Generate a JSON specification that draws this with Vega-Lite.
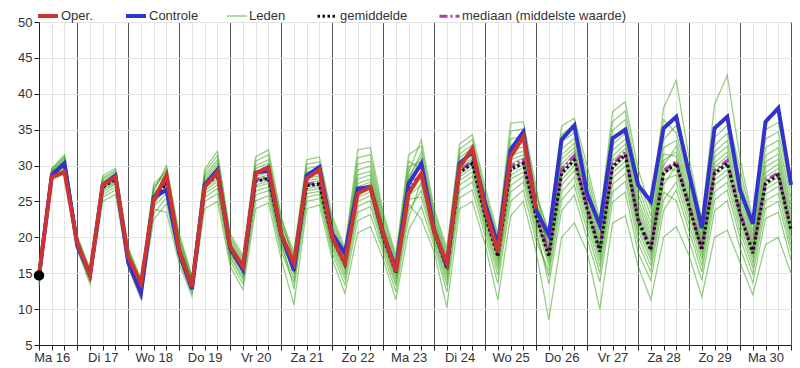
{"$schema":"https://vega.github.io/schema/vega-lite/v6.json","width":752,"height":323,"autosize":{"type":"none"},"padding":{"left":39,"top":22,"right":9,"bottom":23},
"config":{"font":"Liberation Sans","view":{"stroke":"#222222","strokeWidth":1},
"axis":{"labelFont":"Liberation Sans","labelFontSize":13,"labelColor":"#333333","domainColor":"#222222","tickColor":"#222222","tickSize":5,"title":null,"gridColor":"#e3e3e3"},
"legend":{"orient":"none","legendX":-3,"legendY":-18,"direction":"horizontal","labelFont":"Liberation Sans","labelFontSize":13,"labelColor":"#333333","symbolType":"stroke","symbolSize":400,"labelOffset":1,"columnPadding":25,"labelLimit":400}},
"datasets":{
"obs":[{"h":6,"v":14.7}],
"oper":[{"h":6,"v":14.75},{"h":12,"v":28.4},{"h":18,"v":29.1},{"h":24,"v":19.2},{"h":30,"v":14.75},{"h":36,"v":27.3},{"h":42,"v":28.4},{"h":48,"v":17.3},{"h":54,"v":13.6},{"h":60,"v":25.2},{"h":66,"v":28.7},{"h":72,"v":18.2},{"h":78,"v":13.1},{"h":84,"v":27.05},{"h":90,"v":29.1},{"h":96,"v":18.7},{"h":102,"v":15.9},{"h":108,"v":28.9},{"h":114,"v":29.8},{"h":120,"v":20.5},{"h":126,"v":16.4},{"h":132,"v":28.2},{"h":138,"v":29.4},{"h":144,"v":20.0},{"h":150,"v":16.4},{"h":156,"v":26.1},{"h":162,"v":27.0},{"h":168,"v":20.6},{"h":174,"v":15.2},{"h":180,"v":26.1},{"h":186,"v":28.9},{"h":192,"v":20.8},{"h":198,"v":16.4},{"h":204,"v":29.8},{"h":210,"v":32.4},{"h":216,"v":24.0},{"h":222,"v":18.0},{"h":228,"v":31.2},{"h":234,"v":34.0},{"h":240,"v":24.0}],
"ctrl":[{"h":6,"v":14.6},{"h":12,"v":28.6},{"h":18,"v":30.3},{"h":24,"v":18.8},{"h":30,"v":14.8},{"h":36,"v":27.3},{"h":42,"v":28.6},{"h":48,"v":16.5},{"h":54,"v":12.2},{"h":60,"v":25.6},{"h":66,"v":26.6},{"h":72,"v":17.8},{"h":78,"v":12.8},{"h":84,"v":27.3},{"h":90,"v":29.4},{"h":96,"v":18.5},{"h":102,"v":15.5},{"h":108,"v":29.0},{"h":114,"v":29.3},{"h":120,"v":20.5},{"h":126,"v":15.4},{"h":132,"v":28.6},{"h":138,"v":29.8},{"h":144,"v":20.5},{"h":150,"v":17.8},{"h":156,"v":26.8},{"h":162,"v":27.0},{"h":168,"v":20.5},{"h":174,"v":15.6},{"h":180,"v":27.5},{"h":186,"v":30.3},{"h":192,"v":21.0},{"h":198,"v":16.0},{"h":204,"v":30.3},{"h":210,"v":31.9},{"h":216,"v":24.8},{"h":222,"v":18.9},{"h":228,"v":32.2},{"h":234,"v":34.7},{"h":240,"v":23.8},{"h":246,"v":20.3},{"h":252,"v":33.6},{"h":258,"v":35.6},{"h":264,"v":26.1},{"h":270,"v":21.7},{"h":276,"v":33.8},{"h":282,"v":35.0},{"h":288,"v":27.3},{"h":294,"v":25.0},{"h":300,"v":35.2},{"h":306,"v":36.8},{"h":312,"v":28.9},{"h":318,"v":21.3},{"h":324,"v":35.2},{"h":330,"v":36.8},{"h":336,"v":26.6},{"h":342,"v":21.9},{"h":348,"v":36.1},{"h":354,"v":38.0},{"h":360,"v":27.3}],
"gem":[{"h":6,"v":14.6},{"h":12,"v":28.8},{"h":18,"v":30.2},{"h":24,"v":19.2},{"h":30,"v":14.6},{"h":36,"v":27.0},{"h":42,"v":28.1},{"h":48,"v":17.2},{"h":54,"v":13.0},{"h":60,"v":25.2},{"h":66,"v":27.5},{"h":72,"v":18.2},{"h":78,"v":13.3},{"h":84,"v":27.2},{"h":90,"v":28.6},{"h":96,"v":18.3},{"h":102,"v":15.5},{"h":108,"v":27.8},{"h":114,"v":28.2},{"h":120,"v":20.2},{"h":126,"v":15.8},{"h":132,"v":27.2},{"h":138,"v":27.4},{"h":144,"v":19.8},{"h":150,"v":16.2},{"h":156,"v":26.3},{"h":162,"v":27.0},{"h":168,"v":20.0},{"h":174,"v":15.0},{"h":180,"v":26.5},{"h":186,"v":28.6},{"h":192,"v":20.8},{"h":198,"v":15.6},{"h":204,"v":29.0},{"h":210,"v":30.3},{"h":216,"v":23.0},{"h":222,"v":17.3},{"h":228,"v":29.5},{"h":234,"v":30.3},{"h":240,"v":22.9},{"h":246,"v":17.3},{"h":252,"v":28.9},{"h":258,"v":30.8},{"h":264,"v":24.0},{"h":270,"v":18.0},{"h":276,"v":29.8},{"h":282,"v":31.5},{"h":288,"v":22.4},{"h":294,"v":18.2},{"h":300,"v":28.9},{"h":306,"v":30.3},{"h":312,"v":24.3},{"h":318,"v":18.2},{"h":324,"v":28.9},{"h":330,"v":30.3},{"h":336,"v":23.3},{"h":342,"v":17.8},{"h":348,"v":27.5},{"h":354,"v":28.7},{"h":360,"v":21.0}],
"med":[{"h":6,"v":14.7},{"h":12,"v":28.9},{"h":18,"v":30.3},{"h":24,"v":19.2},{"h":30,"v":14.6},{"h":36,"v":27.1},{"h":42,"v":28.3},{"h":48,"v":17.2},{"h":54,"v":13.0},{"h":60,"v":25.4},{"h":66,"v":27.8},{"h":72,"v":18.2},{"h":78,"v":13.4},{"h":84,"v":27.4},{"h":90,"v":28.8},{"h":96,"v":18.3},{"h":102,"v":15.6},{"h":108,"v":28.0},{"h":114,"v":28.4},{"h":120,"v":20.2},{"h":126,"v":16.0},{"h":132,"v":27.4},{"h":138,"v":27.6},{"h":144,"v":19.9},{"h":150,"v":16.5},{"h":156,"v":26.5},{"h":162,"v":27.2},{"h":168,"v":20.1},{"h":174,"v":15.2},{"h":180,"v":26.8},{"h":186,"v":28.9},{"h":192,"v":20.9},{"h":198,"v":15.9},{"h":204,"v":29.3},{"h":210,"v":30.6},{"h":216,"v":23.2},{"h":222,"v":17.8},{"h":228,"v":29.9},{"h":234,"v":30.8},{"h":240,"v":23.1},{"h":246,"v":18.0},{"h":252,"v":29.4},{"h":258,"v":31.4},{"h":264,"v":24.3},{"h":270,"v":18.5},{"h":276,"v":30.2},{"h":282,"v":31.9},{"h":288,"v":22.6},{"h":294,"v":18.6},{"h":300,"v":29.3},{"h":306,"v":30.6},{"h":312,"v":24.5},{"h":318,"v":18.6},{"h":324,"v":29.3},{"h":330,"v":30.7},{"h":336,"v":23.5},{"h":342,"v":18.2},{"h":348,"v":27.9},{"h":354,"v":29.0},{"h":360,"v":21.2}],
"leden":[
{"h":6,"m":1,"v":14.2},{"h":6,"m":2,"v":14.9},{"h":6,"m":3,"v":13.0},{"h":6,"m":4,"v":14.7},{"h":6,"m":5,"v":15.1},{"h":6,"m":6,"v":13.8},{"h":6,"m":7,"v":14.5},{"h":6,"m":8,"v":15.3},{"h":6,"m":9,"v":14.7},{"h":6,"m":10,"v":13.5},{"h":6,"m":11,"v":15.0},{"h":6,"m":12,"v":14.4},{"h":6,"m":13,"v":14.8},{"h":6,"m":14,"v":14.0},{"h":6,"m":15,"v":15.2},{"h":6,"m":16,"v":14.6},
{"h":12,"m":1,"v":28.6},{"h":12,"m":2,"v":29.1},{"h":12,"m":3,"v":28.0},{"h":12,"m":4,"v":28.9},{"h":12,"m":5,"v":29.3},{"h":12,"m":6,"v":28.4},{"h":12,"m":7,"v":28.8},{"h":12,"m":8,"v":29.6},{"h":12,"m":9,"v":29.0},{"h":12,"m":10,"v":28.2},{"h":12,"m":11,"v":29.2},{"h":12,"m":12,"v":28.7},{"h":12,"m":13,"v":29.0},{"h":12,"m":14,"v":28.5},{"h":12,"m":15,"v":29.5},{"h":12,"m":16,"v":28.8},
{"h":18,"m":1,"v":29.9},{"h":18,"m":2,"v":30.7},{"h":18,"m":3,"v":28.8},{"h":18,"m":4,"v":30.4},{"h":18,"m":5,"v":31.1},{"h":18,"m":6,"v":29.5},{"h":18,"m":7,"v":30.1},{"h":18,"m":8,"v":31.5},{"h":18,"m":9,"v":30.5},{"h":18,"m":10,"v":29.2},{"h":18,"m":11,"v":30.9},{"h":18,"m":12,"v":30.0},{"h":18,"m":13,"v":30.6},{"h":18,"m":14,"v":29.7},{"h":18,"m":15,"v":31.3},{"h":18,"m":16,"v":30.3},
{"h":24,"m":1,"v":19.0},{"h":24,"m":2,"v":19.6},{"h":24,"m":3,"v":18.3},{"h":24,"m":4,"v":19.3},{"h":24,"m":5,"v":19.9},{"h":24,"m":6,"v":18.8},{"h":24,"m":7,"v":19.2},{"h":24,"m":8,"v":20.2},{"h":24,"m":9,"v":19.4},{"h":24,"m":10,"v":18.6},{"h":24,"m":11,"v":19.7},{"h":24,"m":12,"v":19.1},{"h":24,"m":13,"v":19.5},{"h":24,"m":14,"v":18.9},{"h":24,"m":15,"v":20.0},{"h":24,"m":16,"v":19.2},
{"h":30,"m":1,"v":14.4},{"h":30,"m":2,"v":15.0},{"h":30,"m":3,"v":13.5},{"h":30,"m":4,"v":14.7},{"h":30,"m":5,"v":15.3},{"h":30,"m":6,"v":14.1},{"h":30,"m":7,"v":14.6},{"h":30,"m":8,"v":15.6},{"h":30,"m":9,"v":14.8},{"h":30,"m":10,"v":13.8},{"h":30,"m":11,"v":15.1},{"h":30,"m":12,"v":14.5},{"h":30,"m":13,"v":14.9},{"h":30,"m":14,"v":14.2},{"h":30,"m":15,"v":15.4},{"h":30,"m":16,"v":14.6},
{"h":36,"m":1,"v":26.6},{"h":36,"m":2,"v":27.6},{"h":36,"m":3,"v":25.0},{"h":36,"m":4,"v":27.2},{"h":36,"m":5,"v":28.1},{"h":36,"m":6,"v":26.0},{"h":36,"m":7,"v":26.9},{"h":36,"m":8,"v":28.6},{"h":36,"m":9,"v":27.3},{"h":36,"m":10,"v":25.6},{"h":36,"m":11,"v":27.8},{"h":36,"m":12,"v":26.8},{"h":36,"m":13,"v":27.5},{"h":36,"m":14,"v":26.3},{"h":36,"m":15,"v":28.3},{"h":36,"m":16,"v":27.1},
{"h":42,"m":1,"v":27.6},{"h":42,"m":2,"v":28.7},{"h":42,"m":3,"v":26.0},{"h":42,"m":4,"v":28.3},{"h":42,"m":5,"v":29.1},{"h":42,"m":6,"v":27.0},{"h":42,"m":7,"v":28.0},{"h":42,"m":8,"v":29.6},{"h":42,"m":9,"v":28.4},{"h":42,"m":10,"v":26.6},{"h":42,"m":11,"v":28.9},{"h":42,"m":12,"v":27.8},{"h":42,"m":13,"v":28.5},{"h":42,"m":14,"v":27.4},{"h":42,"m":15,"v":29.3},{"h":42,"m":16,"v":28.2},
{"h":48,"m":1,"v":16.9},{"h":48,"m":2,"v":17.8},{"h":48,"m":3,"v":15.8},{"h":48,"m":4,"v":17.4},{"h":48,"m":5,"v":18.1},{"h":48,"m":6,"v":16.5},{"h":48,"m":7,"v":17.1},{"h":48,"m":8,"v":18.6},{"h":48,"m":9,"v":17.5},{"h":48,"m":10,"v":16.2},{"h":48,"m":11,"v":17.9},{"h":48,"m":12,"v":17.0},{"h":48,"m":13,"v":17.6},{"h":48,"m":14,"v":16.7},{"h":48,"m":15,"v":18.3},{"h":48,"m":16,"v":17.3},
{"h":54,"m":1,"v":12.6},{"h":54,"m":2,"v":13.5},{"h":54,"m":3,"v":11.4},{"h":54,"m":4,"v":13.1},{"h":54,"m":5,"v":13.8},{"h":54,"m":6,"v":12.2},{"h":54,"m":7,"v":12.9},{"h":54,"m":8,"v":14.2},{"h":54,"m":9,"v":13.2},{"h":54,"m":10,"v":11.9},{"h":54,"m":11,"v":13.6},{"h":54,"m":12,"v":12.8},{"h":54,"m":13,"v":13.4},{"h":54,"m":14,"v":12.4},{"h":54,"m":15,"v":14.0},{"h":54,"m":16,"v":13.0},
{"h":60,"m":1,"v":24.6},{"h":60,"m":2,"v":26.1},{"h":60,"m":3,"v":22.5},{"h":60,"m":4,"v":25.5},{"h":60,"m":5,"v":26.7},{"h":60,"m":6,"v":23.9},{"h":60,"m":7,"v":25.1},{"h":60,"m":8,"v":27.5},{"h":60,"m":9,"v":25.7},{"h":60,"m":10,"v":23.3},{"h":60,"m":11,"v":26.4},{"h":60,"m":12,"v":24.9},{"h":60,"m":13,"v":25.9},{"h":60,"m":14,"v":24.3},{"h":60,"m":15,"v":27.1},{"h":60,"m":16,"v":25.3},
{"h":66,"m":1,"v":27.3},{"h":66,"m":2,"v":28.3},{"h":66,"m":3,"v":24.7},{"h":66,"m":4,"v":27.6},{"h":66,"m":5,"v":29.6},{"h":66,"m":6,"v":23.5},{"h":66,"m":7,"v":27.0},{"h":66,"m":8,"v":29.2},{"h":66,"m":9,"v":28.5},{"h":66,"m":10,"v":25.5},{"h":66,"m":11,"v":30.0},{"h":66,"m":12,"v":26.6},{"h":66,"m":13,"v":27.8},{"h":66,"m":14,"v":26.1},{"h":66,"m":15,"v":28.8},{"h":66,"m":16,"v":28.0},
{"h":72,"m":1,"v":18.1},{"h":72,"m":2,"v":18.9},{"h":72,"m":3,"v":16.9},{"h":72,"m":4,"v":18.3},{"h":72,"m":5,"v":20.1},{"h":72,"m":6,"v":16.3},{"h":72,"m":7,"v":18.0},{"h":72,"m":8,"v":19.7},{"h":72,"m":9,"v":19.1},{"h":72,"m":10,"v":17.3},{"h":72,"m":11,"v":20.5},{"h":72,"m":12,"v":17.8},{"h":72,"m":13,"v":18.5},{"h":72,"m":14,"v":17.5},{"h":72,"m":15,"v":19.4},{"h":72,"m":16,"v":18.7},
{"h":78,"m":1,"v":13.2},{"h":78,"m":2,"v":13.7},{"h":78,"m":3,"v":12.2},{"h":78,"m":4,"v":13.4},{"h":78,"m":5,"v":14.4},{"h":78,"m":6,"v":11.8},{"h":78,"m":7,"v":13.1},{"h":78,"m":8,"v":14.2},{"h":78,"m":9,"v":13.8},{"h":78,"m":10,"v":12.6},{"h":78,"m":11,"v":14.6},{"h":78,"m":12,"v":13.0},{"h":78,"m":13,"v":13.5},{"h":78,"m":14,"v":12.8},{"h":78,"m":15,"v":14.0},{"h":78,"m":16,"v":13.6},
{"h":84,"m":1,"v":27.1},{"h":84,"m":2,"v":27.9},{"h":84,"m":3,"v":25.0},{"h":84,"m":4,"v":27.3},{"h":84,"m":5,"v":29.1},{"h":84,"m":6,"v":24.0},{"h":84,"m":7,"v":26.8},{"h":84,"m":8,"v":28.7},{"h":84,"m":9,"v":28.1},{"h":84,"m":10,"v":25.6},{"h":84,"m":11,"v":29.5},{"h":84,"m":12,"v":26.5},{"h":84,"m":13,"v":27.5},{"h":84,"m":14,"v":26.1},{"h":84,"m":15,"v":28.4},{"h":84,"m":16,"v":27.7},
{"h":90,"m":1,"v":28.5},{"h":90,"m":2,"v":29.6},{"h":90,"m":3,"v":26.1},{"h":90,"m":4,"v":28.7},{"h":90,"m":5,"v":31.4},{"h":90,"m":6,"v":25.0},{"h":90,"m":7,"v":28.2},{"h":90,"m":8,"v":30.8},{"h":90,"m":9,"v":30.0},{"h":90,"m":10,"v":26.8},{"h":90,"m":11,"v":32.0},{"h":90,"m":12,"v":27.8},{"h":90,"m":13,"v":29.0},{"h":90,"m":14,"v":27.3},{"h":90,"m":15,"v":30.4},{"h":90,"m":16,"v":29.3},
{"h":96,"m":1,"v":18.2},{"h":96,"m":2,"v":19.0},{"h":96,"m":3,"v":16.7},{"h":96,"m":4,"v":18.4},{"h":96,"m":5,"v":20.1},{"h":96,"m":6,"v":16.0},{"h":96,"m":7,"v":18.0},{"h":96,"m":8,"v":19.8},{"h":96,"m":9,"v":19.2},{"h":96,"m":10,"v":17.2},{"h":96,"m":11,"v":20.5},{"h":96,"m":12,"v":17.8},{"h":96,"m":13,"v":18.6},{"h":96,"m":14,"v":17.5},{"h":96,"m":15,"v":19.4},{"h":96,"m":16,"v":18.7},
{"h":102,"m":1,"v":15.4},{"h":102,"m":2,"v":16.1},{"h":102,"m":3,"v":13.5},{"h":102,"m":4,"v":15.6},{"h":102,"m":5,"v":17.1},{"h":102,"m":6,"v":12.7},{"h":102,"m":7,"v":15.2},{"h":102,"m":8,"v":16.8},{"h":102,"m":9,"v":16.3},{"h":102,"m":10,"v":14.1},{"h":102,"m":11,"v":17.5},{"h":102,"m":12,"v":14.9},{"h":102,"m":13,"v":15.7},{"h":102,"m":14,"v":14.5},{"h":102,"m":15,"v":16.5},{"h":102,"m":16,"v":15.9},
{"h":108,"m":1,"v":27.7},{"h":108,"m":2,"v":28.8},{"h":108,"m":3,"v":25.1},{"h":108,"m":4,"v":27.9},{"h":108,"m":5,"v":30.6},{"h":108,"m":6,"v":24.0},{"h":108,"m":7,"v":27.3},{"h":108,"m":8,"v":30.0},{"h":108,"m":9,"v":29.2},{"h":108,"m":10,"v":25.9},{"h":108,"m":11,"v":31.2},{"h":108,"m":12,"v":27.0},{"h":108,"m":13,"v":28.2},{"h":108,"m":14,"v":26.5},{"h":108,"m":15,"v":29.6},{"h":108,"m":16,"v":28.5},
{"h":114,"m":1,"v":28.1},{"h":114,"m":2,"v":29.4},{"h":114,"m":3,"v":25.8},{"h":114,"m":4,"v":28.4},{"h":114,"m":5,"v":31.5},{"h":114,"m":6,"v":24.8},{"h":114,"m":7,"v":27.8},{"h":114,"m":8,"v":30.8},{"h":114,"m":9,"v":29.8},{"h":114,"m":10,"v":26.5},{"h":114,"m":11,"v":32.2},{"h":114,"m":12,"v":27.5},{"h":114,"m":13,"v":28.7},{"h":114,"m":14,"v":27.0},{"h":114,"m":15,"v":30.3},{"h":114,"m":16,"v":29.0},
{"h":120,"m":1,"v":20.1},{"h":120,"m":2,"v":21.0},{"h":120,"m":3,"v":18.0},{"h":120,"m":4,"v":20.3},{"h":120,"m":5,"v":22.5},{"h":120,"m":6,"v":17.0},{"h":120,"m":7,"v":19.8},{"h":120,"m":8,"v":22.0},{"h":120,"m":9,"v":21.3},{"h":120,"m":10,"v":18.6},{"h":120,"m":11,"v":23.0},{"h":120,"m":12,"v":19.5},{"h":120,"m":13,"v":20.5},{"h":120,"m":14,"v":19.1},{"h":120,"m":15,"v":21.7},{"h":120,"m":16,"v":20.8},
{"h":126,"m":1,"v":15.6},{"h":126,"m":2,"v":16.2},{"h":126,"m":3,"v":13.7},{"h":126,"m":4,"v":16.7},{"h":126,"m":5,"v":18.0},{"h":126,"m":6,"v":10.6},{"h":126,"m":7,"v":14.9},{"h":126,"m":8,"v":17.3},{"h":126,"m":9,"v":16.1},{"h":126,"m":10,"v":14.3},{"h":126,"m":11,"v":16.5},{"h":126,"m":12,"v":12.8},{"h":126,"m":13,"v":16.9},{"h":126,"m":14,"v":15.3},{"h":126,"m":15,"v":17.6},{"h":126,"m":16,"v":15.9},
{"h":132,"m":1,"v":27.1},{"h":132,"m":2,"v":27.9},{"h":132,"m":3,"v":25.6},{"h":132,"m":4,"v":28.6},{"h":132,"m":5,"v":30.8},{"h":132,"m":6,"v":24.0},{"h":132,"m":7,"v":26.5},{"h":132,"m":8,"v":29.6},{"h":132,"m":9,"v":27.6},{"h":132,"m":10,"v":26.1},{"h":132,"m":11,"v":28.3},{"h":132,"m":12,"v":25.0},{"h":132,"m":13,"v":29.1},{"h":132,"m":14,"v":26.8},{"h":132,"m":15,"v":30.2},{"h":132,"m":16,"v":27.3},
{"h":138,"m":1,"v":27.3},{"h":138,"m":2,"v":28.2},{"h":138,"m":3,"v":26.0},{"h":138,"m":4,"v":28.9},{"h":138,"m":5,"v":31.2},{"h":138,"m":6,"v":24.5},{"h":138,"m":7,"v":26.8},{"h":138,"m":8,"v":29.9},{"h":138,"m":9,"v":27.9},{"h":138,"m":10,"v":26.4},{"h":138,"m":11,"v":28.5},{"h":138,"m":12,"v":25.4},{"h":138,"m":13,"v":29.4},{"h":138,"m":14,"v":27.1},{"h":138,"m":15,"v":30.5},{"h":138,"m":16,"v":27.6},
{"h":144,"m":1,"v":19.7},{"h":144,"m":2,"v":20.4},{"h":144,"m":3,"v":18.4},{"h":144,"m":4,"v":21.1},{"h":144,"m":5,"v":23.0},{"h":144,"m":6,"v":17.0},{"h":144,"m":7,"v":19.2},{"h":144,"m":8,"v":21.9},{"h":144,"m":9,"v":20.2},{"h":144,"m":10,"v":18.8},{"h":144,"m":11,"v":20.8},{"h":144,"m":12,"v":17.8},{"h":144,"m":13,"v":21.5},{"h":144,"m":14,"v":19.5},{"h":144,"m":15,"v":22.4},{"h":144,"m":16,"v":19.9},
{"h":150,"m":1,"v":16.0},{"h":150,"m":2,"v":16.7},{"h":150,"m":3,"v":14.2},{"h":150,"m":4,"v":17.1},{"h":150,"m":5,"v":18.5},{"h":150,"m":6,"v":12.2},{"h":150,"m":7,"v":15.3},{"h":150,"m":8,"v":17.7},{"h":150,"m":9,"v":16.5},{"h":150,"m":10,"v":14.8},{"h":150,"m":11,"v":16.9},{"h":150,"m":12,"v":13.4},{"h":150,"m":13,"v":17.4},{"h":150,"m":14,"v":15.7},{"h":150,"m":15,"v":18.1},{"h":150,"m":16,"v":16.3},
{"h":156,"m":1,"v":26.1},{"h":156,"m":2,"v":27.5},{"h":156,"m":3,"v":23.5},{"h":156,"m":4,"v":28.7},{"h":156,"m":5,"v":32.2},{"h":156,"m":6,"v":20.6},{"h":156,"m":7,"v":25.0},{"h":156,"m":8,"v":30.2},{"h":156,"m":9,"v":27.0},{"h":156,"m":10,"v":24.3},{"h":156,"m":11,"v":28.1},{"h":156,"m":12,"v":22.3},{"h":156,"m":13,"v":29.4},{"h":156,"m":14,"v":25.6},{"h":156,"m":15,"v":31.1},{"h":156,"m":16,"v":26.5},
{"h":162,"m":1,"v":26.8},{"h":162,"m":2,"v":28.1},{"h":162,"m":3,"v":24.3},{"h":162,"m":4,"v":29.2},{"h":162,"m":5,"v":32.5},{"h":162,"m":6,"v":21.5},{"h":162,"m":7,"v":25.8},{"h":162,"m":8,"v":30.6},{"h":162,"m":9,"v":27.7},{"h":162,"m":10,"v":25.1},{"h":162,"m":11,"v":28.7},{"h":162,"m":12,"v":23.2},{"h":162,"m":13,"v":29.9},{"h":162,"m":14,"v":26.3},{"h":162,"m":15,"v":31.5},{"h":162,"m":16,"v":27.2},
{"h":168,"m":1,"v":19.9},{"h":168,"m":2,"v":20.7},{"h":168,"m":3,"v":18.5},{"h":168,"m":4,"v":21.4},{"h":168,"m":5,"v":23.5},{"h":168,"m":6,"v":17.0},{"h":168,"m":7,"v":19.3},{"h":168,"m":8,"v":22.3},{"h":168,"m":9,"v":20.4},{"h":168,"m":10,"v":19.0},{"h":168,"m":11,"v":21.1},{"h":168,"m":12,"v":17.9},{"h":168,"m":13,"v":21.8},{"h":168,"m":14,"v":19.6},{"h":168,"m":15,"v":22.9},{"h":168,"m":16,"v":20.1},
{"h":174,"m":1,"v":14.9},{"h":174,"m":2,"v":15.5},{"h":174,"m":3,"v":13.2},{"h":174,"m":4,"v":16.0},{"h":174,"m":5,"v":17.5},{"h":174,"m":6,"v":11.3},{"h":174,"m":7,"v":14.2},{"h":174,"m":8,"v":16.7},{"h":174,"m":9,"v":15.3},{"h":174,"m":10,"v":13.7},{"h":174,"m":11,"v":15.8},{"h":174,"m":12,"v":12.4},{"h":174,"m":13,"v":16.3},{"h":174,"m":14,"v":14.6},{"h":174,"m":15,"v":17.1},{"h":174,"m":16,"v":15.1},
{"h":180,"m":1,"v":26.3},{"h":180,"m":2,"v":27.5},{"h":180,"m":3,"v":23.8},{"h":180,"m":4,"v":28.5},{"h":180,"m":5,"v":31.5},{"h":180,"m":6,"v":21.0},{"h":180,"m":7,"v":25.3},{"h":180,"m":8,"v":29.8},{"h":180,"m":9,"v":27.1},{"h":180,"m":10,"v":24.6},{"h":180,"m":11,"v":28.0},{"h":180,"m":12,"v":22.7},{"h":180,"m":13,"v":29.1},{"h":180,"m":14,"v":25.8},{"h":180,"m":15,"v":30.6},{"h":180,"m":16,"v":26.7},
{"h":186,"m":1,"v":29.2},{"h":186,"m":2,"v":28.8},{"h":186,"m":3,"v":26.5},{"h":186,"m":4,"v":31.2},{"h":186,"m":5,"v":32.7},{"h":186,"m":6,"v":24.3},{"h":186,"m":7,"v":25.6},{"h":186,"m":8,"v":30.6},{"h":186,"m":9,"v":30.1},{"h":186,"m":10,"v":22.5},{"h":186,"m":11,"v":31.9},{"h":186,"m":12,"v":27.9},{"h":186,"m":13,"v":33.6},{"h":186,"m":14,"v":27.3},{"h":186,"m":15,"v":29.6},{"h":186,"m":16,"v":28.4},
{"h":192,"m":1,"v":21.2},{"h":192,"m":2,"v":20.9},{"h":192,"m":3,"v":19.8},{"h":192,"m":4,"v":22.5},{"h":192,"m":5,"v":23.4},{"h":192,"m":6,"v":18.8},{"h":192,"m":7,"v":19.4},{"h":192,"m":8,"v":22.1},{"h":192,"m":9,"v":21.8},{"h":192,"m":10,"v":18.0},{"h":192,"m":11,"v":22.9},{"h":192,"m":12,"v":20.5},{"h":192,"m":13,"v":24.0},{"h":192,"m":14,"v":20.2},{"h":192,"m":15,"v":21.4},{"h":192,"m":16,"v":20.7},
{"h":198,"m":1,"v":15.9},{"h":198,"m":2,"v":15.7},{"h":198,"m":3,"v":14.0},{"h":198,"m":4,"v":17.1},{"h":198,"m":5,"v":18.0},{"h":198,"m":6,"v":12.4},{"h":198,"m":7,"v":13.3},{"h":198,"m":8,"v":16.8},{"h":198,"m":9,"v":16.5},{"h":198,"m":10,"v":10.2},{"h":198,"m":11,"v":17.5},{"h":198,"m":12,"v":15.1},{"h":198,"m":13,"v":18.5},{"h":198,"m":14,"v":14.6},{"h":198,"m":15,"v":16.2},{"h":198,"m":16,"v":15.4},
{"h":204,"m":1,"v":29.5},{"h":204,"m":2,"v":29.2},{"h":204,"m":3,"v":27.3},{"h":204,"m":4,"v":31.1},{"h":204,"m":5,"v":32.3},{"h":204,"m":6,"v":25.5},{"h":204,"m":7,"v":26.5},{"h":204,"m":8,"v":30.6},{"h":204,"m":9,"v":30.2},{"h":204,"m":10,"v":24.0},{"h":204,"m":11,"v":31.6},{"h":204,"m":12,"v":28.4},{"h":204,"m":13,"v":33.0},{"h":204,"m":14,"v":27.9},{"h":204,"m":15,"v":29.8},{"h":204,"m":16,"v":28.8},
{"h":210,"m":1,"v":30.8},{"h":210,"m":2,"v":30.5},{"h":210,"m":3,"v":28.5},{"h":210,"m":4,"v":32.4},{"h":210,"m":5,"v":33.6},{"h":210,"m":6,"v":26.6},{"h":210,"m":7,"v":27.7},{"h":210,"m":8,"v":31.9},{"h":210,"m":9,"v":31.5},{"h":210,"m":10,"v":25.0},{"h":210,"m":11,"v":32.9},{"h":210,"m":12,"v":29.7},{"h":210,"m":13,"v":34.3},{"h":210,"m":14,"v":29.1},{"h":210,"m":15,"v":31.1},{"h":210,"m":16,"v":30.1},
{"h":216,"m":1,"v":23.5},{"h":216,"m":2,"v":23.2},{"h":216,"m":3,"v":21.6},{"h":216,"m":4,"v":25.1},{"h":216,"m":5,"v":26.3},{"h":216,"m":6,"v":20.2},{"h":216,"m":7,"v":21.0},{"h":216,"m":8,"v":24.6},{"h":216,"m":9,"v":24.2},{"h":216,"m":10,"v":19.0},{"h":216,"m":11,"v":25.6},{"h":216,"m":12,"v":22.5},{"h":216,"m":13,"v":27.0},{"h":216,"m":14,"v":22.1},{"h":216,"m":15,"v":23.8},{"h":216,"m":16,"v":22.8},
{"h":222,"m":1,"v":17.7},{"h":222,"m":2,"v":17.4},{"h":222,"m":3,"v":15.5},{"h":222,"m":4,"v":19.0},{"h":222,"m":5,"v":19.9},{"h":222,"m":6,"v":13.6},{"h":222,"m":7,"v":14.7},{"h":222,"m":8,"v":18.6},{"h":222,"m":9,"v":18.3},{"h":222,"m":10,"v":11.3},{"h":222,"m":11,"v":19.4},{"h":222,"m":12,"v":16.7},{"h":222,"m":13,"v":20.5},{"h":222,"m":14,"v":16.1},{"h":222,"m":15,"v":17.9},{"h":222,"m":16,"v":17.1},
{"h":228,"m":1,"v":30.3},{"h":228,"m":2,"v":29.8},{"h":228,"m":3,"v":27.2},{"h":228,"m":4,"v":32.8},{"h":228,"m":5,"v":34.8},{"h":228,"m":6,"v":25.0},{"h":228,"m":7,"v":26.3},{"h":228,"m":8,"v":32.1},{"h":228,"m":9,"v":31.4},{"h":228,"m":10,"v":23.0},{"h":228,"m":11,"v":33.7},{"h":228,"m":12,"v":28.7},{"h":228,"m":13,"v":35.9},{"h":228,"m":14,"v":28.1},{"h":228,"m":15,"v":30.8},{"h":228,"m":16,"v":29.2},
{"h":234,"m":1,"v":31.0},{"h":234,"m":2,"v":30.5},{"h":234,"m":3,"v":28.5},{"h":234,"m":4,"v":33.3},{"h":234,"m":5,"v":35.1},{"h":234,"m":6,"v":26.6},{"h":234,"m":7,"v":27.7},{"h":234,"m":8,"v":32.6},{"h":234,"m":9,"v":32.0},{"h":234,"m":10,"v":25.0},{"h":234,"m":11,"v":34.1},{"h":234,"m":12,"v":29.7},{"h":234,"m":13,"v":36.1},{"h":234,"m":14,"v":29.1},{"h":234,"m":15,"v":31.5},{"h":234,"m":16,"v":30.1},
{"h":240,"m":1,"v":23.4},{"h":240,"m":2,"v":23.1},{"h":240,"m":3,"v":21.2},{"h":240,"m":4,"v":25.0},{"h":240,"m":5,"v":26.3},{"h":240,"m":6,"v":19.5},{"h":240,"m":7,"v":20.5},{"h":240,"m":8,"v":24.5},{"h":240,"m":9,"v":24.1},{"h":240,"m":10,"v":18.0},{"h":240,"m":11,"v":25.6},{"h":240,"m":12,"v":22.3},{"h":240,"m":13,"v":27.0},{"h":240,"m":14,"v":21.8},{"h":240,"m":15,"v":23.7},{"h":240,"m":16,"v":22.7},
{"h":246,"m":1,"v":17.7},{"h":246,"m":2,"v":16.6},{"h":246,"m":3,"v":13.5},{"h":246,"m":4,"v":19.7},{"h":246,"m":5,"v":20.3},{"h":246,"m":6,"v":15.4},{"h":246,"m":7,"v":14.6},{"h":246,"m":8,"v":18.4},{"h":246,"m":9,"v":19.2},{"h":246,"m":10,"v":8.5},{"h":246,"m":11,"v":21.0},{"h":246,"m":12,"v":17.1},{"h":246,"m":13,"v":17.4},{"h":246,"m":14,"v":16.1},{"h":246,"m":15,"v":18.8},{"h":246,"m":16,"v":18.0},
{"h":252,"m":1,"v":29.7},{"h":252,"m":2,"v":28.0},{"h":252,"m":3,"v":23.7},{"h":252,"m":4,"v":33.3},{"h":252,"m":5,"v":34.3},{"h":252,"m":6,"v":26.3},{"h":252,"m":7,"v":25.2},{"h":252,"m":8,"v":30.9},{"h":252,"m":9,"v":32.3},{"h":252,"m":10,"v":20.0},{"h":252,"m":11,"v":35.5},{"h":252,"m":12,"v":28.6},{"h":252,"m":13,"v":29.2},{"h":252,"m":14,"v":27.3},{"h":252,"m":15,"v":31.5},{"h":252,"m":16,"v":30.2},
{"h":258,"m":1,"v":31.5},{"h":258,"m":2,"v":30.0},{"h":258,"m":3,"v":25.9},{"h":258,"m":4,"v":34.6},{"h":258,"m":5,"v":35.6},{"h":258,"m":6,"v":28.4},{"h":258,"m":7,"v":27.3},{"h":258,"m":8,"v":32.5},{"h":258,"m":9,"v":33.8},{"h":258,"m":10,"v":22.0},{"h":258,"m":11,"v":36.6},{"h":258,"m":12,"v":30.5},{"h":258,"m":13,"v":31.0},{"h":258,"m":14,"v":29.3},{"h":258,"m":15,"v":33.1},{"h":258,"m":16,"v":32.0},
{"h":264,"m":1,"v":24.7},{"h":264,"m":2,"v":23.3},{"h":264,"m":3,"v":19.8},{"h":264,"m":4,"v":28.0},{"h":264,"m":5,"v":28.9},{"h":264,"m":6,"v":21.9},{"h":264,"m":7,"v":21.0},{"h":264,"m":8,"v":25.8},{"h":264,"m":9,"v":27.1},{"h":264,"m":10,"v":18.0},{"h":264,"m":11,"v":30.0},{"h":264,"m":12,"v":23.8},{"h":264,"m":13,"v":24.2},{"h":264,"m":14,"v":22.7},{"h":264,"m":15,"v":26.4},{"h":264,"m":16,"v":25.2},
{"h":270,"m":1,"v":18.5},{"h":270,"m":2,"v":17.3},{"h":270,"m":3,"v":13.8},{"h":270,"m":4,"v":21.0},{"h":270,"m":5,"v":21.7},{"h":270,"m":6,"v":15.9},{"h":270,"m":7,"v":15.0},{"h":270,"m":8,"v":19.4},{"h":270,"m":9,"v":20.3},{"h":270,"m":10,"v":10.0},{"h":270,"m":11,"v":22.5},{"h":270,"m":12,"v":17.8},{"h":270,"m":13,"v":18.2},{"h":270,"m":14,"v":16.7},{"h":270,"m":15,"v":19.8},{"h":270,"m":16,"v":18.9},
{"h":276,"m":1,"v":30.7},{"h":276,"m":2,"v":29.0},{"h":276,"m":3,"v":24.9},{"h":276,"m":4,"v":34.9},{"h":276,"m":5,"v":36.1},{"h":276,"m":6,"v":27.4},{"h":276,"m":7,"v":26.3},{"h":276,"m":8,"v":32.1},{"h":276,"m":9,"v":33.8},{"h":276,"m":10,"v":22.0},{"h":276,"m":11,"v":37.5},{"h":276,"m":12,"v":29.5},{"h":276,"m":13,"v":30.1},{"h":276,"m":14,"v":28.3},{"h":276,"m":15,"v":32.9},{"h":276,"m":16,"v":31.3},
{"h":282,"m":1,"v":32.4},{"h":282,"m":2,"v":30.6},{"h":282,"m":3,"v":26.3},{"h":282,"m":4,"v":36.4},{"h":282,"m":5,"v":37.6},{"h":282,"m":6,"v":28.9},{"h":282,"m":7,"v":27.8},{"h":282,"m":8,"v":33.7},{"h":282,"m":9,"v":35.3},{"h":282,"m":10,"v":23.0},{"h":282,"m":11,"v":38.9},{"h":282,"m":12,"v":31.2},{"h":282,"m":13,"v":31.8},{"h":282,"m":14,"v":29.9},{"h":282,"m":15,"v":34.5},{"h":282,"m":16,"v":33.0},
{"h":288,"m":1,"v":23.3},{"h":288,"m":2,"v":21.6},{"h":288,"m":3,"v":17.9},{"h":288,"m":4,"v":27.1},{"h":288,"m":5,"v":28.2},{"h":288,"m":6,"v":20.2},{"h":288,"m":7,"v":19.2},{"h":288,"m":8,"v":24.5},{"h":288,"m":9,"v":26.1},{"h":288,"m":10,"v":16.0},{"h":288,"m":11,"v":29.5},{"h":288,"m":12,"v":22.1},{"h":288,"m":13,"v":22.7},{"h":288,"m":14,"v":21.0},{"h":288,"m":15,"v":25.2},{"h":288,"m":16,"v":23.8},
{"h":294,"m":1,"v":18.9},{"h":294,"m":2,"v":17.5},{"h":294,"m":3,"v":14.0},{"h":294,"m":4,"v":22.0},{"h":294,"m":5,"v":23.0},{"h":294,"m":6,"v":16.1},{"h":294,"m":7,"v":15.2},{"h":294,"m":8,"v":19.9},{"h":294,"m":9,"v":21.2},{"h":294,"m":10,"v":11.3},{"h":294,"m":11,"v":24.0},{"h":294,"m":12,"v":18.0},{"h":294,"m":13,"v":18.4},{"h":294,"m":14,"v":16.9},{"h":294,"m":15,"v":20.5},{"h":294,"m":16,"v":19.4},
{"h":300,"m":1,"v":30.0},{"h":300,"m":2,"v":28.0},{"h":300,"m":3,"v":23.7},{"h":300,"m":4,"v":34.9},{"h":300,"m":5,"v":36.4},{"h":300,"m":6,"v":26.3},{"h":300,"m":7,"v":25.2},{"h":300,"m":8,"v":31.6},{"h":300,"m":9,"v":33.6},{"h":300,"m":10,"v":20.0},{"h":300,"m":11,"v":38.0},{"h":300,"m":12,"v":28.6},{"h":300,"m":13,"v":29.3},{"h":300,"m":14,"v":27.3},{"h":300,"m":15,"v":32.5},{"h":300,"m":16,"v":30.7},
{"h":306,"m":1,"v":32.7},{"h":306,"m":2,"v":28.7},{"h":306,"m":3,"v":26.6},{"h":306,"m":4,"v":36.9},{"h":306,"m":5,"v":34.5},{"h":306,"m":6,"v":25.1},{"h":306,"m":7,"v":27.7},{"h":306,"m":8,"v":31.3},{"h":306,"m":9,"v":35.6},{"h":306,"m":10,"v":21.5},{"h":306,"m":11,"v":41.9},{"h":306,"m":12,"v":30.6},{"h":306,"m":13,"v":29.4},{"h":306,"m":14,"v":30.0},{"h":306,"m":15,"v":33.5},{"h":306,"m":16,"v":31.9},
{"h":312,"m":1,"v":26.3},{"h":312,"m":2,"v":22.8},{"h":312,"m":3,"v":20.9},{"h":312,"m":4,"v":29.8},{"h":312,"m":5,"v":27.8},{"h":312,"m":6,"v":19.5},{"h":312,"m":7,"v":21.9},{"h":312,"m":8,"v":25.1},{"h":312,"m":9,"v":28.7},{"h":312,"m":10,"v":17.5},{"h":312,"m":11,"v":31.0},{"h":312,"m":12,"v":24.6},{"h":312,"m":13,"v":23.5},{"h":312,"m":14,"v":24.0},{"h":312,"m":15,"v":27.0},{"h":312,"m":16,"v":25.6},
{"h":318,"m":1,"v":19.5},{"h":318,"m":2,"v":16.9},{"h":318,"m":3,"v":15.2},{"h":318,"m":4,"v":21.7},{"h":318,"m":5,"v":20.4},{"h":318,"m":6,"v":14.0},{"h":318,"m":7,"v":16.1},{"h":318,"m":8,"v":18.7},{"h":318,"m":9,"v":21.0},{"h":318,"m":10,"v":11.7},{"h":318,"m":11,"v":22.5},{"h":318,"m":12,"v":18.4},{"h":318,"m":13,"v":17.5},{"h":318,"m":14,"v":18.0},{"h":318,"m":15,"v":19.9},{"h":318,"m":16,"v":19.1},
{"h":324,"m":1,"v":31.2},{"h":324,"m":2,"v":27.3},{"h":324,"m":3,"v":25.2},{"h":324,"m":4,"v":35.1},{"h":324,"m":5,"v":32.8},{"h":324,"m":6,"v":23.7},{"h":324,"m":7,"v":26.3},{"h":324,"m":8,"v":29.8},{"h":324,"m":9,"v":33.9},{"h":324,"m":10,"v":20.0},{"h":324,"m":11,"v":38.5},{"h":324,"m":12,"v":29.2},{"h":324,"m":13,"v":28.0},{"h":324,"m":14,"v":28.6},{"h":324,"m":15,"v":31.9},{"h":324,"m":16,"v":30.4},
{"h":330,"m":1,"v":32.7},{"h":330,"m":2,"v":28.7},{"h":330,"m":3,"v":26.6},{"h":330,"m":4,"v":36.9},{"h":330,"m":5,"v":34.5},{"h":330,"m":6,"v":25.1},{"h":330,"m":7,"v":27.7},{"h":330,"m":8,"v":31.3},{"h":330,"m":9,"v":35.6},{"h":330,"m":10,"v":21.0},{"h":330,"m":11,"v":42.6},{"h":330,"m":12,"v":30.6},{"h":330,"m":13,"v":29.4},{"h":330,"m":14,"v":30.0},{"h":330,"m":15,"v":33.5},{"h":330,"m":16,"v":31.9},
{"h":336,"m":1,"v":25.6},{"h":336,"m":2,"v":21.8},{"h":336,"m":3,"v":19.9},{"h":336,"m":4,"v":29.6},{"h":336,"m":5,"v":27.3},{"h":336,"m":6,"v":18.5},{"h":336,"m":7,"v":20.9},{"h":336,"m":8,"v":24.2},{"h":336,"m":9,"v":28.4},{"h":336,"m":10,"v":16.5},{"h":336,"m":11,"v":31.0},{"h":336,"m":12,"v":23.6},{"h":336,"m":13,"v":22.5},{"h":336,"m":14,"v":23.0},{"h":336,"m":15,"v":26.4},{"h":336,"m":16,"v":24.8},
{"h":342,"m":1,"v":19.2},{"h":342,"m":2,"v":16.5},{"h":342,"m":3,"v":14.9},{"h":342,"m":4,"v":21.7},{"h":342,"m":5,"v":20.2},{"h":342,"m":6,"v":13.7},{"h":342,"m":7,"v":15.8},{"h":342,"m":8,"v":18.4},{"h":342,"m":9,"v":20.9},{"h":342,"m":10,"v":12.0},{"h":342,"m":11,"v":22.5},{"h":342,"m":12,"v":18.0},{"h":342,"m":13,"v":17.1},{"h":342,"m":14,"v":17.6},{"h":342,"m":15,"v":19.7},{"h":342,"m":16,"v":18.7},
{"h":348,"m":1,"v":29.8},{"h":348,"m":2,"v":26.0},{"h":348,"m":3,"v":24.0},{"h":348,"m":4,"v":33.7},{"h":348,"m":5,"v":31.4},{"h":348,"m":6,"v":22.6},{"h":348,"m":7,"v":25.1},{"h":348,"m":8,"v":28.4},{"h":348,"m":9,"v":32.5},{"h":348,"m":10,"v":19.0},{"h":348,"m":11,"v":35.0},{"h":348,"m":12,"v":27.8},{"h":348,"m":13,"v":26.7},{"h":348,"m":14,"v":27.2},{"h":348,"m":15,"v":30.5},{"h":348,"m":16,"v":29.0},
{"h":354,"m":1,"v":30.9},{"h":354,"m":2,"v":27.1},{"h":354,"m":3,"v":25.0},{"h":354,"m":4,"v":34.7},{"h":354,"m":5,"v":32.5},{"h":354,"m":6,"v":23.5},{"h":354,"m":7,"v":26.1},{"h":354,"m":8,"v":29.6},{"h":354,"m":9,"v":33.5},{"h":354,"m":10,"v":20.0},{"h":354,"m":11,"v":36.0},{"h":354,"m":12,"v":29.0},{"h":354,"m":13,"v":27.8},{"h":354,"m":14,"v":28.4},{"h":354,"m":15,"v":31.6},{"h":354,"m":16,"v":30.2},
{"h":360,"m":1,"v":23.1},{"h":360,"m":2,"v":19.7},{"h":360,"m":3,"v":18.0},{"h":360,"m":4,"v":26.7},{"h":360,"m":5,"v":24.6},{"h":360,"m":6,"v":16.8},{"h":360,"m":7,"v":18.9},{"h":360,"m":8,"v":21.8},{"h":360,"m":9,"v":25.6},{"h":360,"m":10,"v":15.0},{"h":360,"m":11,"v":28.0},{"h":360,"m":12,"v":21.3},{"h":360,"m":13,"v":20.3},{"h":360,"m":14,"v":20.8},{"h":360,"m":15,"v":23.8},{"h":360,"m":16,"v":22.4}
]},
"encoding":{
"x":{"field":"h","type":"quantitative","scale":{"domain":[6,360],"nice":false,"zero":false},"axis":{"values":[6,12,18,24,30,36,42,48,54,60,66,72,78,84,90,96,102,108,114,120,126,132,138,144,150,156,162,168,174,180,186,192,198,204,210,216,222,228,234,240,246,252,258,264,270,276,282,288,294,300,306,312,318,324,330,336,342,348,354,360],"labelExpr":"datum.value % 24 == 12 ? ['Zo','Ma','Di','Wo','Do','Vr','Za'][(floor(datum.value / 24) + 1) % 7] + ' ' + (16 + floor(datum.value / 24)) : ''","labelOverlap":false,"labelFlush":false,"labelBound":false,"labelPadding":1,"grid":true,"gridColor":{"condition":{"test":"datum.value % 24 == 0","value":"#555555"},"value":"#e3e3e3"}}},
"y":{"field":"v","type":"quantitative","scale":{"domain":[5,50],"nice":false,"zero":false},"axis":{"values":[5,10,15,20,25,30,35,40,45,50],"grid":true,"labelPadding":2}}
},
"layer":[
{"data":{"name":"leden"},"mark":{"type":"line"},"encoding":{"detail":{"field":"m","type":"nominal"},
"color":{"datum":"Leden","scale":{"domain":["Oper.","Controle","Leden","gemiddelde","mediaan (middelste waarde)"],"range":["#cc3333","#3333cc","#2fa20c","#111111","#b23cb2"]},"legend":{"title":null}},
"strokeDash":{"datum":"Leden","scale":{"domain":["Oper.","Controle","Leden","gemiddelde","mediaan (middelste waarde)"],"range":[[1,0],[1,0],[1,0],[2.5,2.5],[8,3,2,3]]},"legend":{"title":null}},
"strokeWidth":{"datum":"Leden","scale":{"type":"ordinal","domain":["Oper.","Controle","Leden","gemiddelde","mediaan (middelste waarde)"],"range":[4,4,1.3,3,3]},"legend":{"title":null}},
"opacity":{"datum":"Leden","scale":{"type":"ordinal","domain":["Oper.","Controle","Leden","gemiddelde","mediaan (middelste waarde)"],"range":[1,1,0.5,1,1]},"legend":{"title":null}}}},
{"data":{"name":"med"},"mark":{"type":"line"},"encoding":{
"color":{"datum":"mediaan (middelste waarde)","scale":{"domain":["Oper.","Controle","Leden","gemiddelde","mediaan (middelste waarde)"],"range":["#cc3333","#3333cc","#2fa20c","#111111","#b23cb2"]},"legend":{"title":null}},
"strokeDash":{"datum":"mediaan (middelste waarde)","scale":{"domain":["Oper.","Controle","Leden","gemiddelde","mediaan (middelste waarde)"],"range":[[1,0],[1,0],[1,0],[2.5,2.5],[8,3,2,3]]},"legend":{"title":null}},
"strokeWidth":{"datum":"mediaan (middelste waarde)","scale":{"type":"ordinal","domain":["Oper.","Controle","Leden","gemiddelde","mediaan (middelste waarde)"],"range":[4,4,1.3,3,3]},"legend":{"title":null}},
"opacity":{"datum":"mediaan (middelste waarde)","scale":{"type":"ordinal","domain":["Oper.","Controle","Leden","gemiddelde","mediaan (middelste waarde)"],"range":[1,1,0.5,1,1]},"legend":{"title":null}}}},
{"data":{"name":"gem"},"mark":{"type":"line"},"encoding":{
"color":{"datum":"gemiddelde","scale":{"domain":["Oper.","Controle","Leden","gemiddelde","mediaan (middelste waarde)"],"range":["#cc3333","#3333cc","#2fa20c","#111111","#b23cb2"]},"legend":{"title":null}},
"strokeDash":{"datum":"gemiddelde","scale":{"domain":["Oper.","Controle","Leden","gemiddelde","mediaan (middelste waarde)"],"range":[[1,0],[1,0],[1,0],[2.5,2.5],[8,3,2,3]]},"legend":{"title":null}},
"strokeWidth":{"datum":"gemiddelde","scale":{"type":"ordinal","domain":["Oper.","Controle","Leden","gemiddelde","mediaan (middelste waarde)"],"range":[4,4,1.3,3,3]},"legend":{"title":null}},
"opacity":{"datum":"gemiddelde","scale":{"type":"ordinal","domain":["Oper.","Controle","Leden","gemiddelde","mediaan (middelste waarde)"],"range":[1,1,0.5,1,1]},"legend":{"title":null}}}},
{"data":{"name":"ctrl"},"mark":{"type":"line"},"encoding":{
"color":{"datum":"Controle","scale":{"domain":["Oper.","Controle","Leden","gemiddelde","mediaan (middelste waarde)"],"range":["#cc3333","#3333cc","#2fa20c","#111111","#b23cb2"]},"legend":{"title":null}},
"strokeDash":{"datum":"Controle","scale":{"domain":["Oper.","Controle","Leden","gemiddelde","mediaan (middelste waarde)"],"range":[[1,0],[1,0],[1,0],[2.5,2.5],[8,3,2,3]]},"legend":{"title":null}},
"strokeWidth":{"datum":"Controle","scale":{"type":"ordinal","domain":["Oper.","Controle","Leden","gemiddelde","mediaan (middelste waarde)"],"range":[4,4,1.3,3,3]},"legend":{"title":null}},
"opacity":{"datum":"Controle","scale":{"type":"ordinal","domain":["Oper.","Controle","Leden","gemiddelde","mediaan (middelste waarde)"],"range":[1,1,0.5,1,1]},"legend":{"title":null}}}},
{"data":{"name":"oper"},"mark":{"type":"line"},"encoding":{
"color":{"datum":"Oper.","scale":{"domain":["Oper.","Controle","Leden","gemiddelde","mediaan (middelste waarde)"],"range":["#cc3333","#3333cc","#2fa20c","#111111","#b23cb2"]},"legend":{"title":null}},
"strokeDash":{"datum":"Oper.","scale":{"domain":["Oper.","Controle","Leden","gemiddelde","mediaan (middelste waarde)"],"range":[[1,0],[1,0],[1,0],[2.5,2.5],[8,3,2,3]]},"legend":{"title":null}},
"strokeWidth":{"datum":"Oper.","scale":{"type":"ordinal","domain":["Oper.","Controle","Leden","gemiddelde","mediaan (middelste waarde)"],"range":[4,4,1.3,3,3]},"legend":{"title":null}},
"opacity":{"datum":"Oper.","scale":{"type":"ordinal","domain":["Oper.","Controle","Leden","gemiddelde","mediaan (middelste waarde)"],"range":[1,1,0.5,1,1]},"legend":{"title":null}}}},
{"data":{"name":"obs"},"mark":{"type":"point","filled":true,"color":"#000000","opacity":1,"size":110}}
]}
